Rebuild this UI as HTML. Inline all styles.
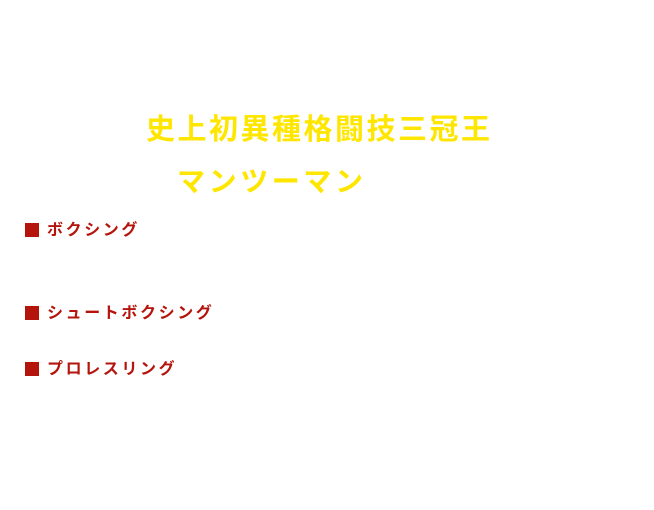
<!DOCTYPE html>
<html><head><meta charset="utf-8"><style>
html,body{margin:0;padding:0;background:#fff;width:654px;height:510px;overflow:hidden;position:relative;font-family:"Liberation Sans","Noto Sans CJK JP",sans-serif;font-weight:bold}
.t{position:absolute;white-space:nowrap;color:#ffe600}
.r{position:absolute;white-space:nowrap;color:#b5140c;font-size:16px;letter-spacing:2.6px;line-height:16px}
.sq{position:absolute;width:14px;height:14px;background:#b5140c}
</style></head><body>
<div class="t" style="left:146px;top:113px;font-size:29px;letter-spacing:2.5px;line-height:34px">史上初異種格闘技三冠王</div>
<div class="t" style="left:177px;top:165px;font-size:28px;letter-spacing:3.6px;line-height:34px">マンツーマン</div>
<div class="sq" style="left:25px;top:223px"></div><div class="r" style="left:47px;top:223px">ボクシング</div>
<div class="sq" style="left:25px;top:306px"></div><div class="r" style="left:47px;top:306px">シュートボクシング</div>
<div class="sq" style="left:25px;top:362px"></div><div class="r" style="left:47px;top:362px">プロレスリング</div>
</body></html>
